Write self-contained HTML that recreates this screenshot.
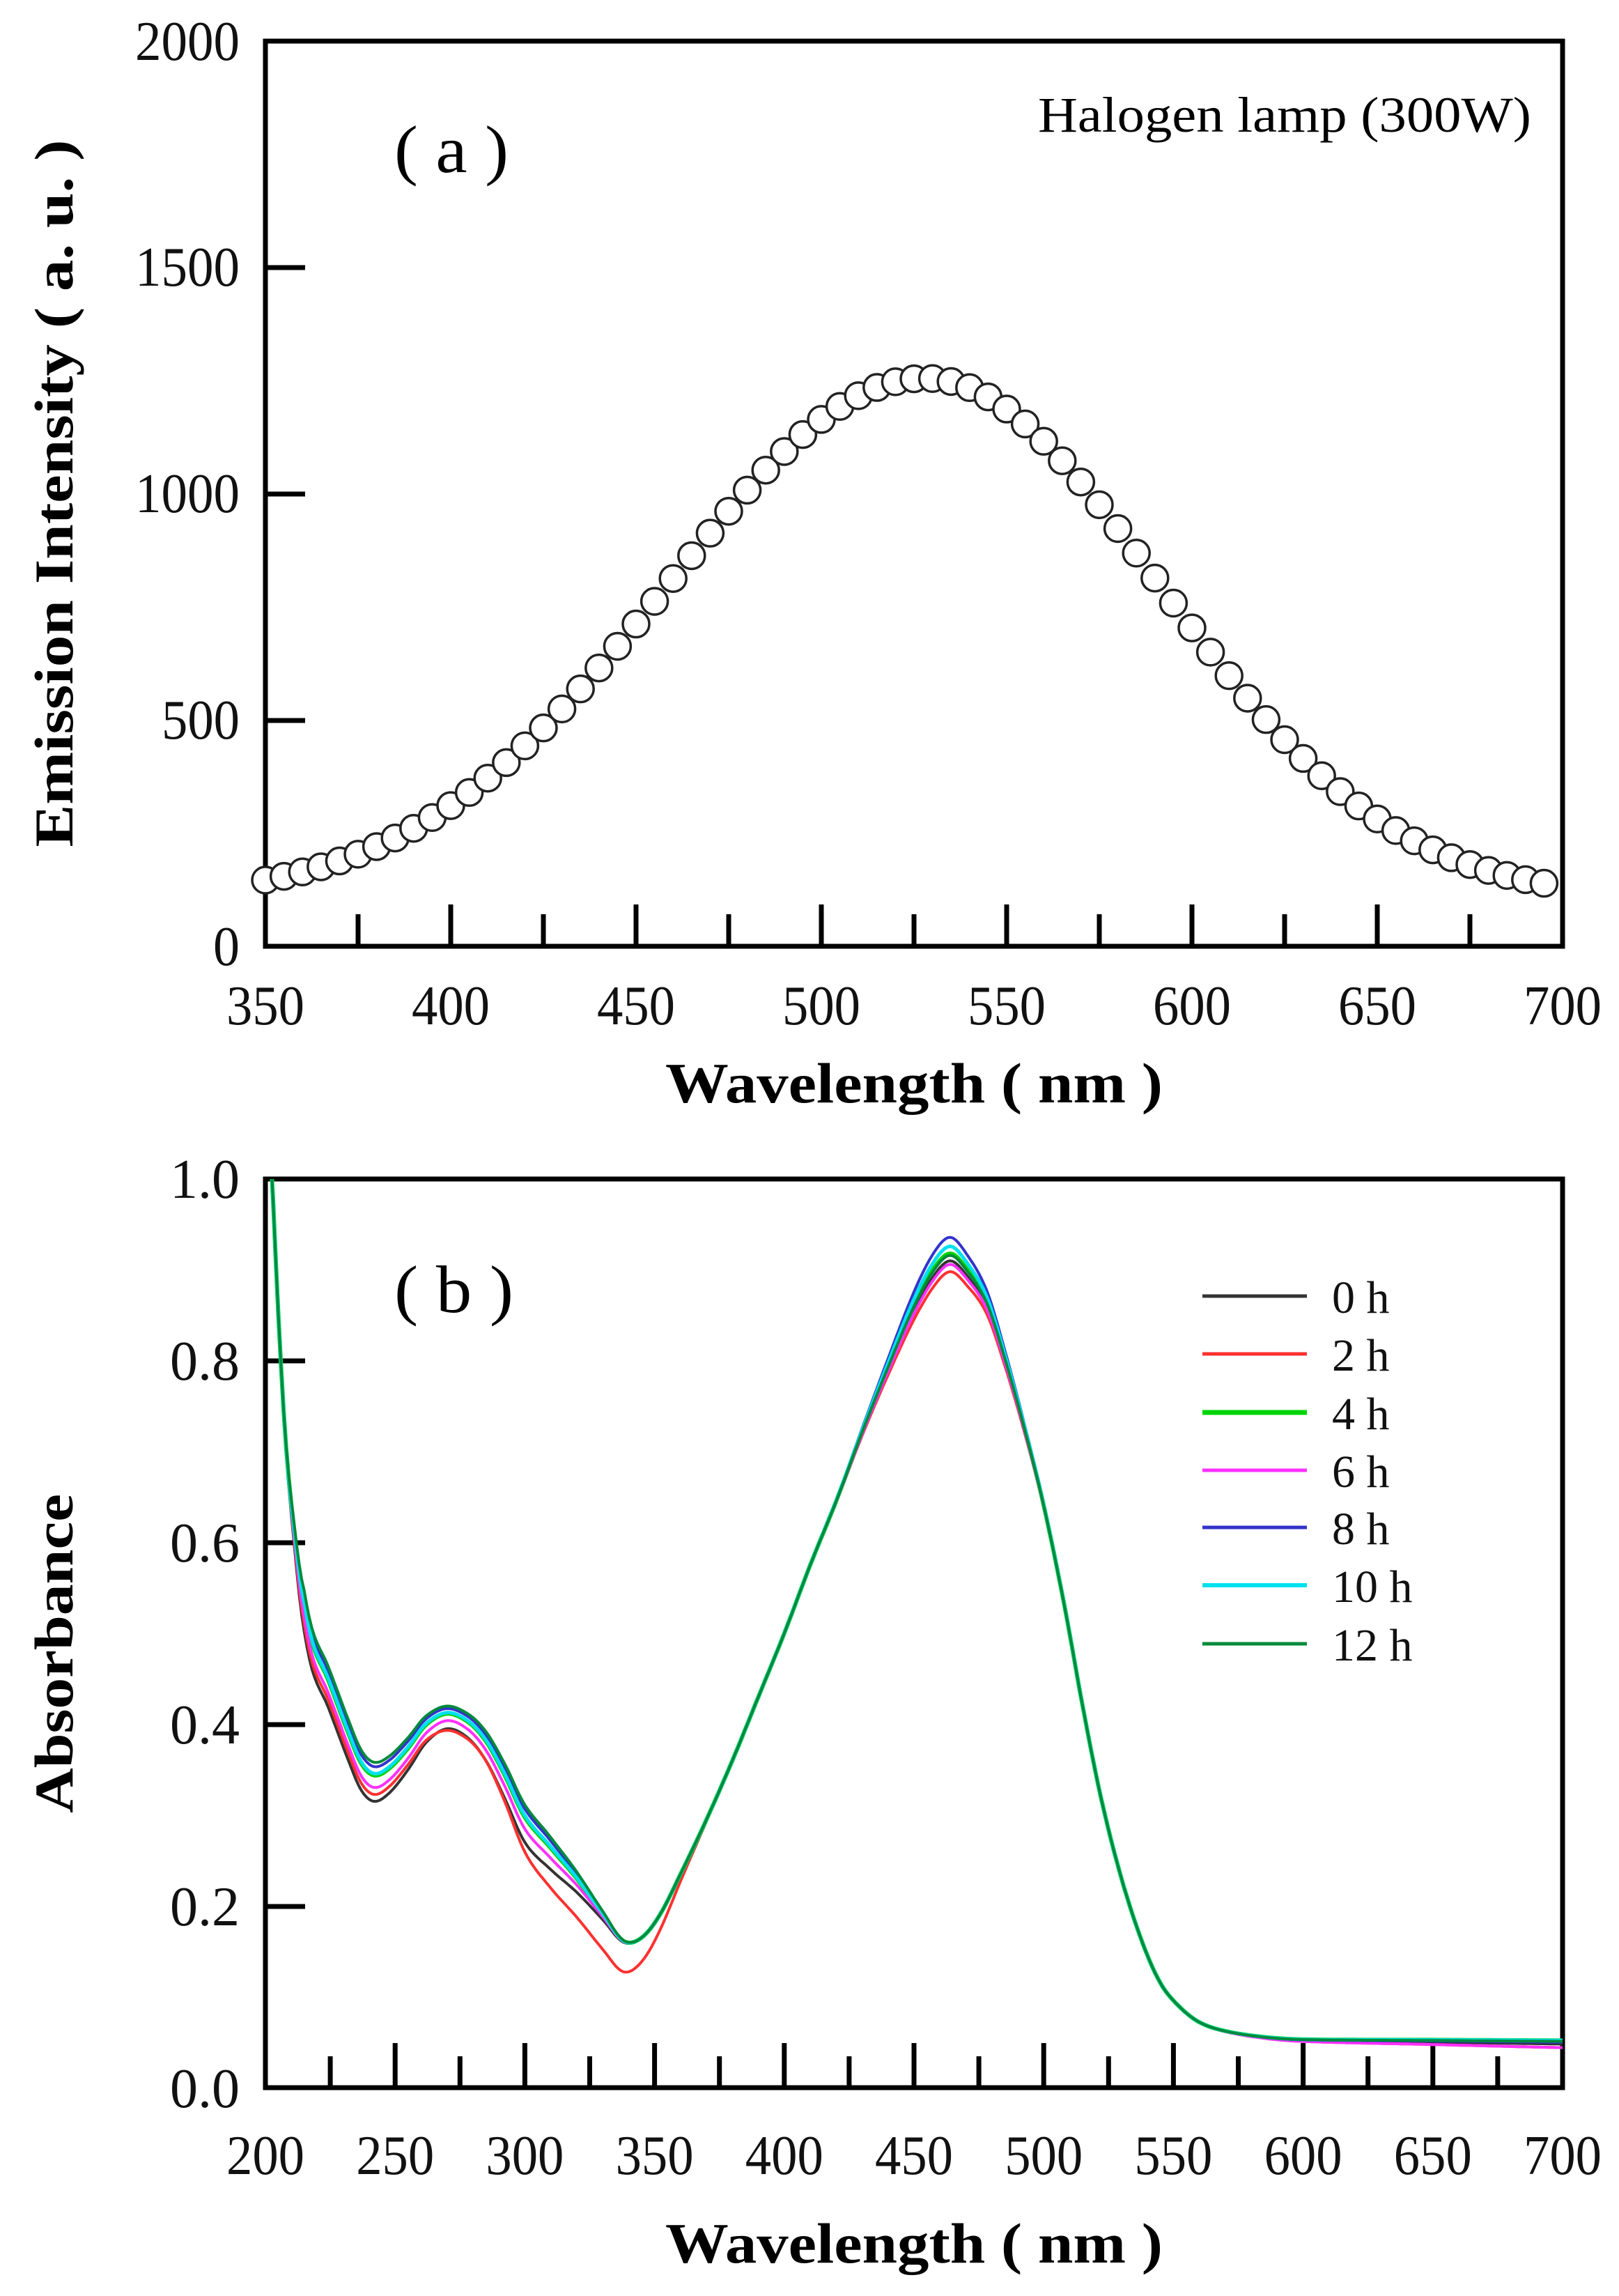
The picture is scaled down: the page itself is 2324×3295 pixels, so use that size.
<!DOCTYPE html>
<html><head><meta charset="utf-8">
<style>html,body{margin:0;padding:0;background:#fff}svg{display:block}</style>
</head><body>
<svg id="s" xmlns="http://www.w3.org/2000/svg" width="2324" height="3295" viewBox="0 0 2324 3295" font-family="'Liberation Serif', serif">
<defs>
<clipPath id="cb"><rect x="381" y="1692" width="1862" height="1304"/></clipPath>
</defs>
<rect width="2324" height="3295" fill="#fff"/>
<g id="gtop"></g>
<g id="gbot"></g>
<g font-size="80" fill="#111" text-anchor="end">
<text x="344" y="86" textLength="150" lengthAdjust="spacingAndGlyphs">2000</text>
<text x="344" y="410" textLength="150" lengthAdjust="spacingAndGlyphs">1500</text>
<text x="344" y="735" textLength="150" lengthAdjust="spacingAndGlyphs">1000</text>
<text x="344" y="1060" textLength="112" lengthAdjust="spacingAndGlyphs">500</text>
<text x="344" y="1385" textLength="38" lengthAdjust="spacingAndGlyphs">0</text>
</g>
<g font-size="80" fill="#111" text-anchor="middle" id="gtx"></g>
<text x="1312" y="1582" font-size="82" font-weight="bold" text-anchor="middle" textLength="714" lengthAdjust="spacingAndGlyphs">Wavelength ( nm )</text>
<text transform="translate(104,708) rotate(-90)" font-size="78" font-weight="bold" text-anchor="middle" textLength="1015" lengthAdjust="spacingAndGlyphs">Emission Intensity ( a. u. )</text>
<text x="566" y="247" font-size="96" textLength="164" lengthAdjust="spacingAndGlyphs">( a )</text>
<text x="2198" y="189" font-size="72" text-anchor="end" textLength="708" lengthAdjust="spacingAndGlyphs">Halogen lamp (300W)</text>
<g font-size="80" fill="#111" text-anchor="end">
<text x="344" y="1719" textLength="100" lengthAdjust="spacingAndGlyphs">1.0</text>
<text x="344" y="1980" textLength="100" lengthAdjust="spacingAndGlyphs">0.8</text>
<text x="344" y="2241" textLength="100" lengthAdjust="spacingAndGlyphs">0.6</text>
<text x="344" y="2502" textLength="100" lengthAdjust="spacingAndGlyphs">0.4</text>
<text x="344" y="2763" textLength="100" lengthAdjust="spacingAndGlyphs">0.2</text>
<text x="344" y="3024" textLength="100" lengthAdjust="spacingAndGlyphs">0.0</text>
</g>
<text x="1312" y="3247" font-size="82" font-weight="bold" text-anchor="middle" textLength="714" lengthAdjust="spacingAndGlyphs">Wavelength ( nm )</text>
<text transform="translate(104,2373) rotate(-90)" font-size="78" font-weight="bold" text-anchor="middle" textLength="458" lengthAdjust="spacingAndGlyphs">Absorbance</text>
<text x="566" y="1883" font-size="96" textLength="171" lengthAdjust="spacingAndGlyphs">( b )</text>
<g id="gleg" font-size="66" fill="#111"></g>
</svg>
<script>
(function(){
var NS="http://www.w3.org/2000/svg";
function el(p,t,a,txt){var e=document.createElementNS(NS,t);for(var k in a)e.setAttribute(k,a[k]);if(txt!=null)e.textContent=txt;p.appendChild(e);return e;}
var gt=document.getElementById('gtop'),gb=document.getElementById('gbot'),tx=document.getElementById('gtx'),leg=document.getElementById('gleg');
var L=381,R=2243,w,x,y,i,len;
el(gt,'rect',{x:L,y:59,width:R-L,height:1299,fill:'none',stroke:'#000','stroke-width':7});
for(i=1;i<4;i++){y=59+i*325;el(gt,'line',{x1:L,y1:y,x2:L+57,y2:y,stroke:'#000','stroke-width':7});}
for(w=375;w<700;w+=25){x=L+(w-350)*5.32;len=(w%50==0)?60:46;el(gt,'line',{x1:x,y1:1358,x2:x,y2:1358-len,stroke:'#000','stroke-width':7});}
for(w=350;w<=700;w+=50){x=L+(w-350)*5.32;el(tx,'text',{x:x,y:1470,textLength:112,lengthAdjust:'spacingAndGlyphs'},String(w));}
function em(w){var c=528,b=105,A=1150,s=w<c?69:63;return b+A*Math.exp(-(w-c)*(w-c)/(2*s*s));}
for(w=350;w<=695;w+=5){x=L+(w-350)*5.32;y=1358-em(w)*0.6495;el(gt,'circle',{cx:x,cy:y,r:19,fill:'#fff',stroke:'#222','stroke-width':3.5});}
el(gb,'rect',{x:L,y:1692,width:R-L,height:1304,fill:'none',stroke:'#000','stroke-width':7});
for(i=1;i<5;i++){y=1692+i*261;el(gb,'line',{x1:L,y1:y,x2:L+57,y2:y,stroke:'#000','stroke-width':7});}
for(w=225;w<700;w+=25){x=L+(w-200)*3.724;len=(w%50==0)?64:45;el(gb,'line',{x1:x,y1:2996,x2:x,y2:2996-len,stroke:'#000','stroke-width':7});}
for(w=200;w<=700;w+=50){x=L+(w-200)*3.724;el(tx,'text',{x:x,y:3120,textLength:112,lengthAdjust:'spacingAndGlyphs'},String(w));}
var P=[[200,1.1],[202,1.03],[205,0.85],[208,0.7],[211,0.6],[214,0.52],[218,0.46],[224,0.42],[232,0.36],[237,0.327],[242,0.315],[248,0.325],[255,0.35],[262,0.38],[270,0.395],[278,0.385],[285,0.36],[292,0.32],[300,0.27],[310,0.24],[320,0.215],[330,0.185],[338,0.16],[345,0.165],[352,0.19],[360,0.235],[370,0.295],[380,0.36],[390,0.43],[400,0.5],[410,0.575],[420,0.645],[430,0.72],[440,0.79],[450,0.855],[458,0.895],[464,0.91],[470,0.895],[478,0.86],[485,0.8],[492,0.73],[500,0.64],[508,0.53],[515,0.42],[522,0.32],[530,0.23],[538,0.16],[545,0.115],[552,0.09],[560,0.072],[570,0.062],[585,0.055],[600,0.052],[650,0.05],[700,0.048],[710,0.048]];
function base(w){if(w<=P[1][0]){return P[0][1]+(P[1][1]-P[0][1])*(w-P[0][0])/(P[1][0]-P[0][0]);}
for(var i=1;i<P.length-2;i++){if(w<=P[i+1][0]){var p0=P[i-1],p1=P[i],p2=P[i+1],p3=P[i+2];var t=(w-p1[0])/(p2[0]-p1[0]);
var m1=(p2[1]-p0[1])/(p2[0]-p0[0])*(p2[0]-p1[0]),m2=(p3[1]-p1[1])/(p3[0]-p1[0])*(p2[0]-p1[0]);
var t2=t*t,t3=t2*t;return (2*t3-3*t2+1)*p1[1]+(t3-2*t2+t)*m1+(-2*t3+3*t2)*p2[1]+(t3-t2)*m2;}}return 0.048;}
function g(x,c,s){return Math.exp(-(x-c)*(x-c)/(2*s*s));}
function w1(x){var v;if(x<207||x>345)return 0;if(x<215)v=(x-207)/8;else if(x<295)v=1;else v=0.5+0.5*Math.cos((x-295)/50*Math.PI);return v*(1-0.45*g(x,272,14));}
var S=[
 {c:'#333333',d1:0,d2:0,t:0,lab:'0 h',sw:4},
 {c:'#ff3030',d1:0.008,d2:-0.012,t:-0.004,red:1,lab:'2 h',sw:4},
 {c:'#00d400',d1:0.03,d2:0.008,t:0.004,lab:'4 h',sw:6},
 {c:'#ff30ff',d1:0.016,d2:-0.004,t:-0.004,lab:'6 h',sw:4},
 {c:'#3333cc',d1:0.04,d2:0.026,t:0.002,lab:'8 h',sw:4},
 {c:'#00e0ee',d1:0.032,d2:0.016,t:0.004,lab:'10 h',sw:5},
 {c:'#008a3a',d1:0.045,d2:0.006,t:0.003,lab:'12 h',sw:4}];
var cg=el(gb,'g',{'clip-path':'url(#cb)'});
S.forEach(function(s){var d='';for(var w=200;w<=700;w+=1){var a=base(w)+s.d1*w1(w)+s.d2*g(w,462,18)+s.t*(w>560?1:0)*(w-560)/140;
 if(s.red)a+=-0.03*g(w,337,14)-0.022*g(w,310,14)-0.006*g(w,272,8);
 var x=L+(w-200)*3.724,y=2996-a*1304;d+=(w==200?'M':'L')+x.toFixed(1)+' '+y.toFixed(1);}
 el(cg,'path',{d:d,fill:'none',stroke:s.c,'stroke-width':s.sw,'stroke-linejoin':'round'});});
var ly=[1860,1943,2027,2110,2192,2275,2359];
S.forEach(function(s,i){el(leg,'line',{x1:1726,y1:ly[i],x2:1876,y2:ly[i],stroke:s.c,'stroke-width':s.sw+1});el(leg,'text',{x:1912,y:ly[i]+24},s.lab);});
})();
</script>
</body></html>
